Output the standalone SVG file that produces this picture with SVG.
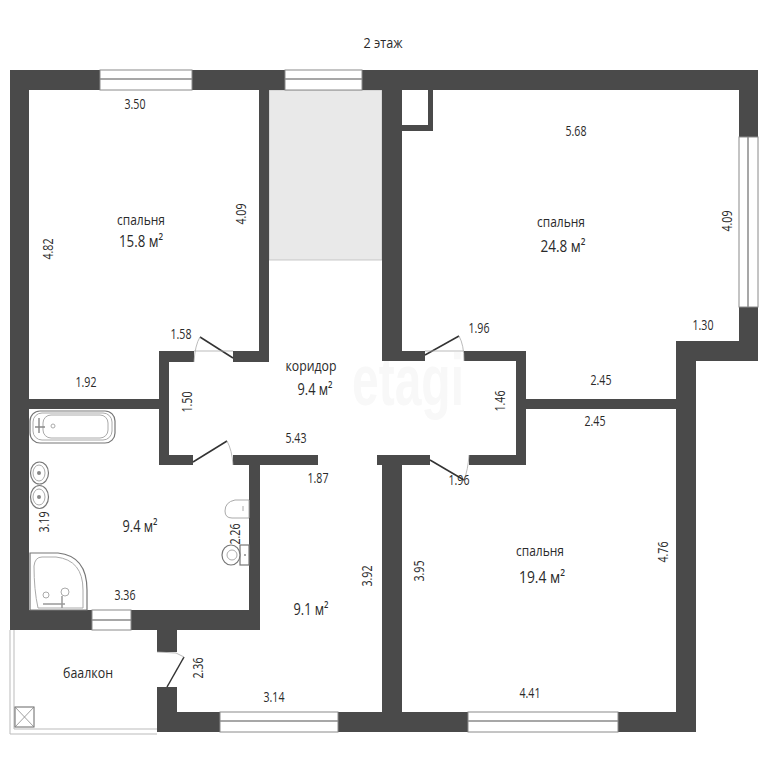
<svg xmlns="http://www.w3.org/2000/svg" width="768" height="768" viewBox="0 0 768 768">
<style>
text{font-family:"Open Sans","Liberation Sans",sans-serif;fill:#2a2a2a;text-anchor:middle}
.d{font-size:14px}
.l{font-size:15px}
.a{font-size:16.5px}
.w{fill:#4a4a4a}
.win{fill:#fff;stroke:#8a8a8a;stroke-width:1}
.m{fill:none;stroke:#8a8a8a;stroke-width:1.5}
.door{stroke:#333;stroke-width:1.5;fill:none}
.arc{stroke:#aaa;stroke-width:.8;fill:none}
.fx{fill:#fff;stroke:#777;stroke-width:1.2}
.fl{fill:none;stroke:#aaa;stroke-width:1}
</style>
<rect width="768" height="768" fill="#fff"/>
<text x="408" y="405" font-size="72" font-weight="bold" textLength="112" lengthAdjust="spacingAndGlyphs" style="font-family:'Liberation Sans',sans-serif;fill:#f8f8f8">etagi</text>
<rect x="269" y="90" width="113" height="170" fill="#e9e9e9" stroke="#bbb" stroke-width=".8"/>
<g id="balcony">
<path d="M10 630V734H157M14 630V729H157" fill="none" stroke="#bbb" stroke-width="1"/>
<rect x="15" y="707" width="19" height="20" fill="#fff" stroke="#666" stroke-width="1"/>
<path d="M15 707L34 727M34 707L15 727" stroke="#888" stroke-width=".8"/>
</g>
<g id="walls" class="w">
<rect x="10" y="70" width="748" height="20"/>
<rect x="10" y="70" width="19" height="560"/>
<rect x="739" y="70" width="19" height="291"/>
<rect x="676" y="341" width="82" height="20"/>
<rect x="676" y="341" width="20" height="391"/>
<rect x="157" y="712" width="539" height="20"/>
<rect x="259" y="90" width="10" height="272"/>
<rect x="382" y="70" width="20" height="291"/>
<rect x="159" y="351" width="35" height="11"/>
<rect x="233" y="351" width="35" height="11"/>
<rect x="159" y="351" width="10" height="114"/>
<rect x="159" y="455" width="34" height="10"/>
<rect x="233" y="455" width="85" height="10"/>
<rect x="249" y="455" width="11" height="175"/>
<rect x="29" y="399" width="131" height="10"/>
<rect x="29" y="610" width="231" height="20"/>
<rect x="157" y="630" width="20" height="22"/>
<rect x="157" y="687" width="20" height="45"/>
<rect x="402" y="351" width="23" height="10"/>
<rect x="464" y="351" width="62" height="10"/>
<rect x="516" y="351" width="10" height="114"/>
<rect x="469" y="455" width="57" height="10"/>
<rect x="377" y="455" width="53" height="10"/>
<rect x="382" y="455" width="20" height="277"/>
<rect x="526" y="399" width="150" height="10"/>
<rect x="402" y="125" width="31" height="6"/>
<rect x="428" y="90" width="5" height="41"/>
</g>
<g id="windows">
<rect class="win" x="100" y="70" width="92" height="20"/><path class="m" d="M100 79H192"/>
<rect class="win" x="285" y="70" width="77" height="20"/><path class="m" d="M285 79H362"/>
<rect class="win" x="739" y="137" width="19" height="170"/><path class="m" d="M748 137V307"/>
<rect class="win" x="220" y="712" width="118" height="20"/><path class="m" d="M220 721H338"/>
<rect class="win" x="468" y="712" width="150" height="20"/><path class="m" d="M468 721H618"/>
<rect class="win" x="92" y="610" width="39" height="20"/><path class="m" d="M92 620H131"/>
</g>
<g id="doors">
<path class="door" d="M233 358L200 337"/><path class="arc" d="M200 337Q195 345 194 362M194 351H233"/>
<path class="door" d="M425 355L459 336"/><path class="arc" d="M459 336Q464 345 464 361M425 351H464"/>
<path class="door" d="M193 462L227 441"/><path class="arc" d="M227 441Q232 450 233 465"/>
<path class="door" d="M430 460L464 480"/><path class="arc" d="M469 455Q468 470 464 480"/>
<path class="door" d="M167 687L184 657"/><path class="arc" d="M157 652L176 653L184 657"/>
</g>
<g id="fixtures">
<rect class="fx" x="30" y="411" width="85" height="32" rx="10"/>
<rect class="fl" x="33" y="413" width="79" height="27" rx="9"/>
<rect class="fl" x="43" y="415" width="65" height="23" rx="8"/>
<path d="M39 418V433M35 427H45" stroke="#888" stroke-width="1.4" fill="none"/>
<circle class="fl" cx="53" cy="426" r="2"/>
<ellipse class="fx" cx="39.500" cy="473" rx="9" ry="11"/>
<ellipse class="fl" cx="39" cy="473" rx="6" ry="8"/>
<circle cx="39" cy="473" r="2" fill="#888"/>
<ellipse class="fx" cx="39.500" cy="497" rx="9" ry="11.500"/>
<ellipse class="fl" cx="39" cy="497" rx="6" ry="8"/>
<circle cx="39" cy="497" r="2" fill="#888"/>
<path class="fx" d="M30 553H58Q87 556 87 590V610H30Z"/>
<path class="fl" d="M42 557H56Q83 560 83 590V608H38Q34 590 34 566Q35 557 42 557Z"/>
<circle class="fl" cx="65" cy="592" r="4"/>
<circle class="fl" cx="46" cy="595" r="3"/>
<path d="M43 604H65M62 596V608" stroke="#999" stroke-width="1.5" fill="none"/>
<path class="fl" d="M249 500H235Q225 502 225 511Q225 518 232 518H249Z"/>
<path class="fl" d="M243 506V511"/>
<rect class="fx" x="240" y="545" width="9" height="20"/>
<circle cx="245" cy="555" r="1" fill="#888"/>
<ellipse class="fx" cx="231" cy="555" rx="9" ry="10"/>
<ellipse class="fl" cx="232" cy="555" rx="5" ry="5"/>
</g>
<g id="labels">
<text class="l" x="383" y="48" textLength="39" lengthAdjust="spacingAndGlyphs">2 этаж</text>
<text class="l" x="141" y="225" textLength="48" lengthAdjust="spacingAndGlyphs">спальня</text>
<text class="a" x="141" y="247" textLength="44" lengthAdjust="spacingAndGlyphs">15.8 м²</text>
<text class="l" x="561" y="227" textLength="48" lengthAdjust="spacingAndGlyphs">спальня</text>
<text class="a" x="563" y="252" textLength="45" lengthAdjust="spacingAndGlyphs">24.8 м²</text>
<text class="l" x="311" y="371" textLength="51" lengthAdjust="spacingAndGlyphs">коридор</text>
<text class="a" x="315" y="395" textLength="35" lengthAdjust="spacingAndGlyphs">9.4 м²</text>
<text class="a" x="140" y="532" textLength="35" lengthAdjust="spacingAndGlyphs">9.4 м²</text>
<text class="l" x="540" y="556" textLength="48" lengthAdjust="spacingAndGlyphs">спальня</text>
<text class="a" x="542" y="583" textLength="46" lengthAdjust="spacingAndGlyphs">19.4 м²</text>
<text class="a" x="311" y="615" textLength="35" lengthAdjust="spacingAndGlyphs">9.1 м²</text>
<text class="l" x="88" y="678" textLength="50" lengthAdjust="spacingAndGlyphs">баалкон</text>
<text class="d" x="135" y="109" textLength="21" lengthAdjust="spacingAndGlyphs">3.50</text>
<text class="d" x="181" y="339" textLength="21" lengthAdjust="spacingAndGlyphs">1.58</text>
<text class="d" x="86" y="387" textLength="21" lengthAdjust="spacingAndGlyphs">1.92</text>
<text class="d" x="576" y="136" textLength="21" lengthAdjust="spacingAndGlyphs">5.68</text>
<text class="d" x="703" y="330" textLength="21" lengthAdjust="spacingAndGlyphs">1.30</text>
<text class="d" x="479" y="333" textLength="21" lengthAdjust="spacingAndGlyphs">1.96</text>
<text class="d" x="601" y="385" textLength="21" lengthAdjust="spacingAndGlyphs">2.45</text>
<text class="d" x="595" y="426" textLength="21" lengthAdjust="spacingAndGlyphs">2.45</text>
<text class="d" x="296" y="443" textLength="21" lengthAdjust="spacingAndGlyphs">5.43</text>
<text class="d" x="318" y="483" textLength="21" lengthAdjust="spacingAndGlyphs">1.87</text>
<text class="d" x="459" y="485" textLength="21" lengthAdjust="spacingAndGlyphs">1.96</text>
<text class="d" x="530" y="698" textLength="21" lengthAdjust="spacingAndGlyphs">4.41</text>
<text class="d" x="274" y="702" textLength="21" lengthAdjust="spacingAndGlyphs">3.14</text>
<text class="d" x="125" y="600" textLength="21" lengthAdjust="spacingAndGlyphs">3.36</text>
<text class="d" transform="translate(53 249) rotate(-90)" textLength="21" lengthAdjust="spacingAndGlyphs">4.82</text>
<text class="d" transform="translate(246 214) rotate(-90)" textLength="21" lengthAdjust="spacingAndGlyphs">4.09</text>
<text class="d" transform="translate(732 221) rotate(-90)" textLength="21" lengthAdjust="spacingAndGlyphs">4.09</text>
<text class="d" transform="translate(505 401) rotate(-90)" textLength="21" lengthAdjust="spacingAndGlyphs">1.46</text>
<text class="d" transform="translate(192 402) rotate(-90)" textLength="21" lengthAdjust="spacingAndGlyphs">1.50</text>
<text class="d" transform="translate(372 576) rotate(-90)" textLength="21" lengthAdjust="spacingAndGlyphs">3.92</text>
<text class="d" transform="translate(424 571) rotate(-90)" textLength="21" lengthAdjust="spacingAndGlyphs">3.95</text>
<text class="d" transform="translate(668 552) rotate(-90)" textLength="21" lengthAdjust="spacingAndGlyphs">4.76</text>
<text class="d" transform="translate(203 668) rotate(-90)" textLength="21" lengthAdjust="spacingAndGlyphs">2.36</text>
<text class="d" transform="translate(49 522) rotate(-90)" textLength="21" lengthAdjust="spacingAndGlyphs">3.19</text>
<text class="d" transform="translate(240 534) rotate(-90)" textLength="21" lengthAdjust="spacingAndGlyphs">2.26</text>
</g>
</svg>
